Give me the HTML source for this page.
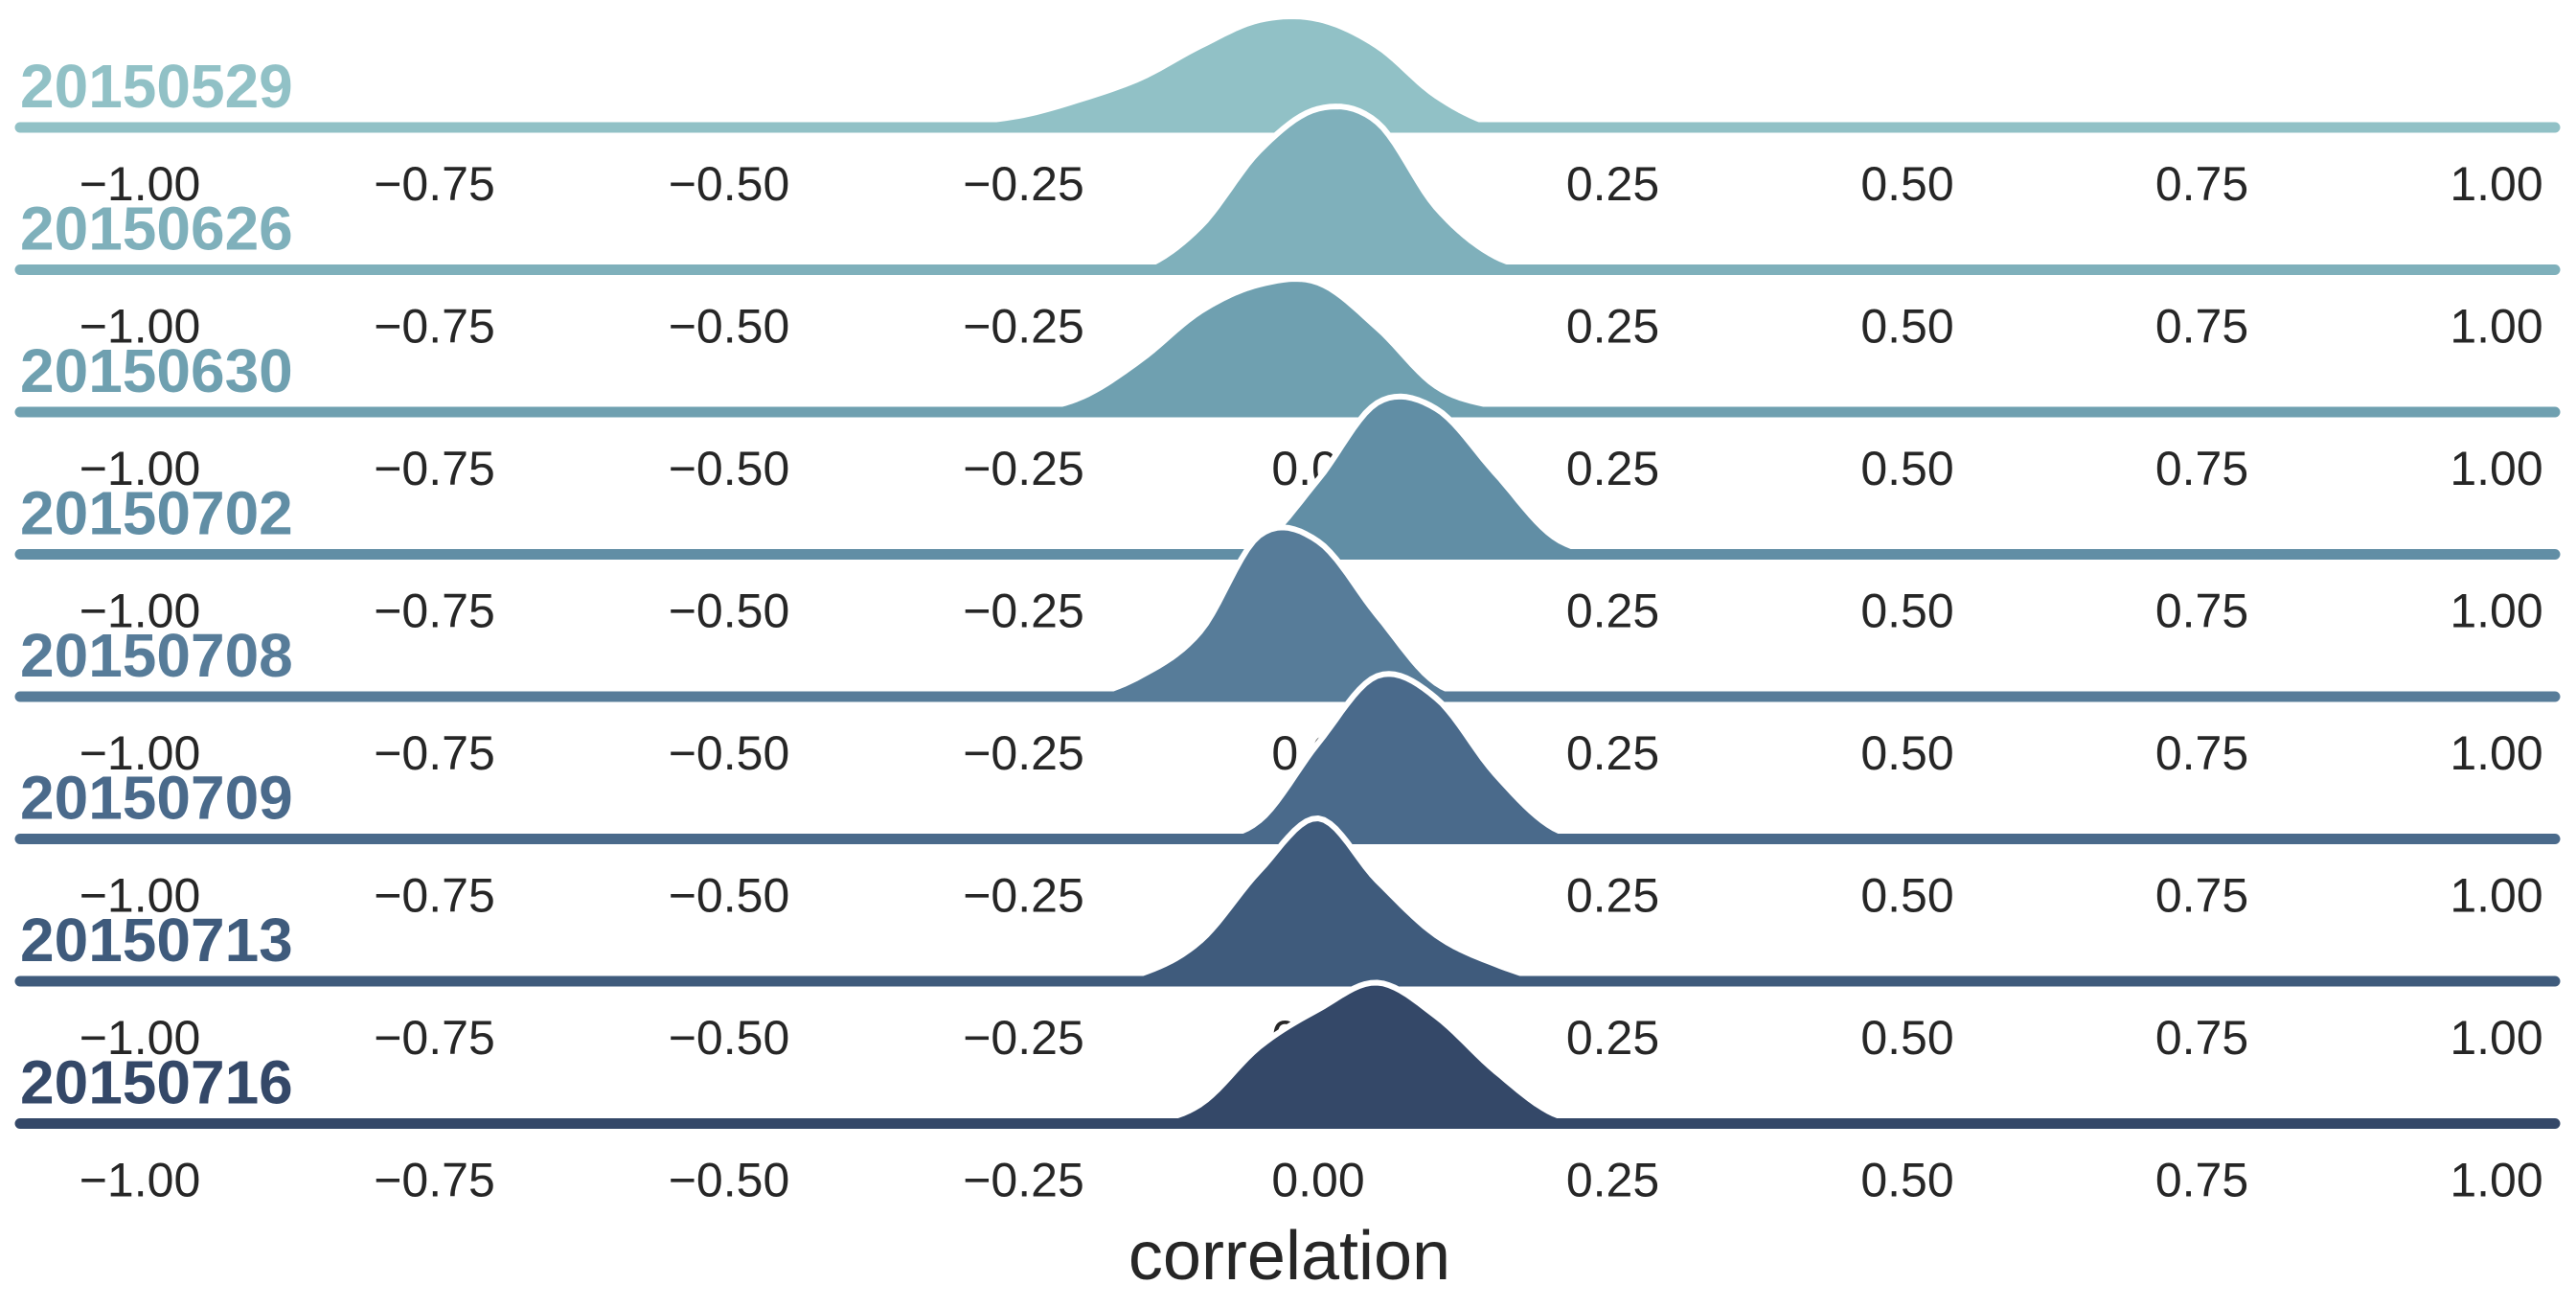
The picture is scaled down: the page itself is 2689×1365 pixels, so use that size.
<!DOCTYPE html>
<html><head><meta charset="utf-8"><style>
html,body{margin:0;padding:0;background:#fff;}
svg{display:block;}
text{font-family:"Liberation Sans",Arial,sans-serif;}
</style></head>
<body>
<svg id="chart" width="2689" height="1365" viewBox="0 0 2689 1365" xmlns="http://www.w3.org/2000/svg"></svg>
<script>
const dates = ["20150529","20150626","20150630","20150702","20150708","20150709","20150713","20150716"];
const gridX = [-0.45,-0.4,-0.35,-0.3,-0.25,-0.2,-0.15,-0.1,-0.05,0,0.05,0.1,0.15,0.2,0.25,0.3,0.35];
const d0 = [0,0,1,5,13,30,52,85,112,113,85,33,3,0,0,0,0];
const d1 = [0,0,0,0,0,0,2,45,124,168,154,65,14,0,0,0,0];
const d2 = [0,0,0,0,1,16,55,105,133,135,88,27,6,0,0,0,0];
const d3 = [0,0,0,0,0,0,0,0,10,78,158,152,85,18,0,0,0];
const d4 = [0,0,0,0,0,0,22,68,168,162,85,14,0,0,0,0,0];
const d5 = [0,0,0,0,0,0,0,0,19,100,170,147,68,11,0,0,0];
const d6 = [0,0,0,0,0,0,8,42,115,170,105,48,18,0,0,0,0];
const d7 = [0,0,0,0,0,0,0,20,80,119,147,112,55,10,0,0,0];
const densities = [d0,d1,d2,d3,d4,d5,d6,d7];
const tickValues = [-1,-0.75,-0.5,-0.25,0,0.25,0.5,0.75,1];
const tickLabels = ["\u22121.00","\u22120.75","\u22120.50","\u22120.25","0.00","0.25","0.50","0.75","1.00"];
const colors = ["#91c1c6","#7fb0bb","#6fa0b0","#618ea5","#577c99","#4a6a8b","#3f5b7c","#344868"];

const svg = document.getElementById('chart');
const NS = "http://www.w3.org/2000/svg";
const x = c => 1376 + c * 1230;
const rowBase = i => 133 + i * 148.5;

function el(tag, attrs, parent){
  const e = document.createElementNS(NS, tag);
  for (const k in attrs) e.setAttribute(k, attrs[k]);
  parent.appendChild(e);
  return e;
}
function sample(vals, c){
  const step = gridX[1]-gridX[0];
  const t = (c - gridX[0]) / step;
  const i = Math.floor(t);
  if (i < 0) return 0;
  if (i >= vals.length-1) return vals[vals.length-1];
  const f = t - i;
  const p0 = vals[Math.max(i-1,0)], p1 = vals[i], p2 = vals[i+1], p3 = vals[Math.min(i+2,vals.length-1)];
  const v = 0.5*((2*p1) + (-p0+p2)*f + (2*p0-5*p1+4*p2-p3)*f*f + (-p0+3*p1-3*p2+p3)*f*f*f);
  return Math.max(0, v);
}

dates.forEach((d, i) => {
  const g = el('g', {}, svg);
  
  
  const base = rowBase(i);
  const col = colors[i];
  const vals = densities[i];
  const lab = el('text', {x: 21, y: base - 21, 'font-size': 64, 'font-weight': 'bold', fill: col}, g);
  
  
  lab.textContent = d;
  const pts = [];
  const c0 = gridX[0], c1 = gridX[gridX.length-1];
  for (let c = c0; c <= c1 + 1e-9; c += 0.005) {
    pts.push([x(c), base - sample(vals, c)]);
  }
  const line = pts.map((p,k)=>(k?'L':'M')+p[0].toFixed(1)+','+p[1].toFixed(1)).join(' ');
  const fillPath = line + ` L${x(c1).toFixed(1)},${base} L${x(c0).toFixed(1)},${base} Z`;
  const area = el('path', {d: fillPath, fill: col}, g);
  
  
  const outline = el('path', {d: line, fill: 'none', stroke: '#fff', 'stroke-width': 6, 'stroke-linejoin': 'round'}, g);
  
  
  const bl = el('line', {x1: 21, x2: 2667, y1: base, y2: base, stroke: col, 'stroke-width': 11, 'stroke-linecap': 'round'}, g);
  
  
  tickValues.forEach((tv, k) => {
    const t = el('text', {x: x(tv), y: base + 76, 'font-size': 50, fill: '#262626', 'text-anchor': 'middle'}, g);
    
    
    t.textContent = tickLabels[k];
  });
});

const xt = el('text', {x: 1346, y: 1335, 'font-size': 72, fill: '#262626', 'text-anchor': 'middle'}, svg);


xt.textContent = 'correlation';
</script>
</body></html>
